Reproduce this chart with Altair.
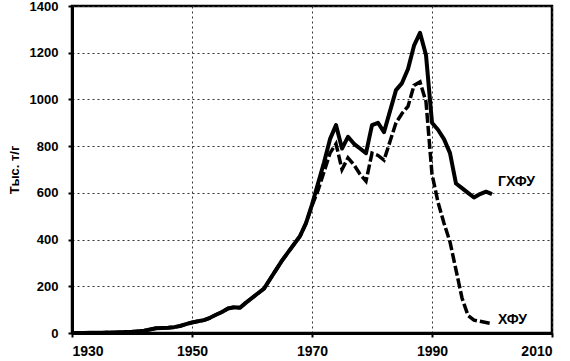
import altair as alt
import pandas as pd

years = list(range(1930, 2001))
hcfc = [0, 0, 0, 1, 1, 1, 2, 2, 3, 4,
        5, 7, 10, 15, 20, 21, 22, 25, 30, 38,
        45, 50, 55, 65, 78, 90, 105, 110, 108, 130,
        150, 170, 190, 230, 270, 310, 345, 380, 415, 470,
        550, 640, 730, 830, 890, 790, 840, 810, 790, 770,
        890, 900, 860, 950, 1040, 1070, 1130, 1230, 1285, 1190,
        900, 870, 830, 770, 640, 620, 600, 580, 595, 605,
        595]
cfc = [0, 0, 0, 1, 1, 1, 2, 2, 3, 4,
       5, 7, 10, 15, 20, 21, 22, 25, 30, 38,
       45, 50, 55, 65, 78, 90, 105, 110, 108, 130,
       150, 170, 190, 230, 270, 310, 345, 380, 415, 470,
       545, 610, 690, 770, 810, 700, 750, 720, 680, 650,
       770, 760, 740, 820, 900, 940, 970, 1060, 1075, 990,
       680, 560, 470, 390, 270, 150, 75, 55, 50, 45,
       40]

label_text = ["ГХФУ", "ХФУ"]
label_year = [2001.0, 2001.0]
label_value = [646, 56]

x_ticks = [1930, 1950, 1970, 1990, 2010]
y_ticks = [0, 200, 400, 600, 800, 1000, 1200, 1400]

df = pd.DataFrame({"year": years, "hcfc": hcfc, "cfc": cfc})
lab = pd.DataFrame({"t": label_text, "year": label_year, "v": label_value})

xs = alt.Scale(domain=[1930, 2010], nice=False)
ys = alt.Scale(domain=[0, 1400], nice=False)

FONT = "Liberation Sans"

xax = alt.Axis(values=x_ticks, format="d", title=None, grid=True,
               gridColor="#333", gridDash=[2, 3], gridWidth=1,
               labelFont=FONT, labelFontSize=14, labelFontWeight="bold",
               labelColor="black", domainColor="black", domainWidth=3,
               tickColor="black", tickSize=4, tickWidth=2, labelPadding=7)
yax = alt.Axis(values=y_ticks, format="d", title="Тыс. т/г", grid=True,
               gridColor="#333", gridDash=[2, 3], gridWidth=1,
               labelFont=FONT, labelFontSize=13, labelFontWeight="bold",
               labelColor="black", domainColor="black", domainWidth=3,
               tickColor="black", tickSize=4, tickWidth=2, labelPadding=10,
               titleFont=FONT, titleFontSize=13, titleFontWeight="bold",
               titleColor="black", titlePadding=8)

base = alt.Chart(df)
solid = base.mark_line(color="black", strokeWidth=4, strokeJoin="round").encode(
    x=alt.X("year:Q", scale=xs, axis=xax),
    y=alt.Y("hcfc:Q", scale=ys, axis=yax),
)
dashed = base.mark_line(color="black", strokeWidth=3.5, strokeDash=[10, 3]).encode(
    x=alt.X("year:Q", scale=xs),
    y=alt.Y("cfc:Q", scale=ys),
)
texts = alt.Chart(lab).mark_text(align="left", baseline="middle", font=FONT,
                                 fontSize=14, fontWeight="bold", color="black").encode(
    x=alt.X("year:Q", scale=xs),
    y=alt.Y("v:Q", scale=ys),
    text="t:N",
)

chart = alt.layer(solid, dashed, texts).properties(
    width=480, height=327,
    autosize=alt.AutoSizeParams(type="none"),
    padding={"left": 72, "top": 6, "right": 18, "bottom": 28},
    background="white",
).configure_view(stroke="black", strokeWidth=2.5)

chart.save("out.html", embed_options={"renderer": "svg", "actions": False})
